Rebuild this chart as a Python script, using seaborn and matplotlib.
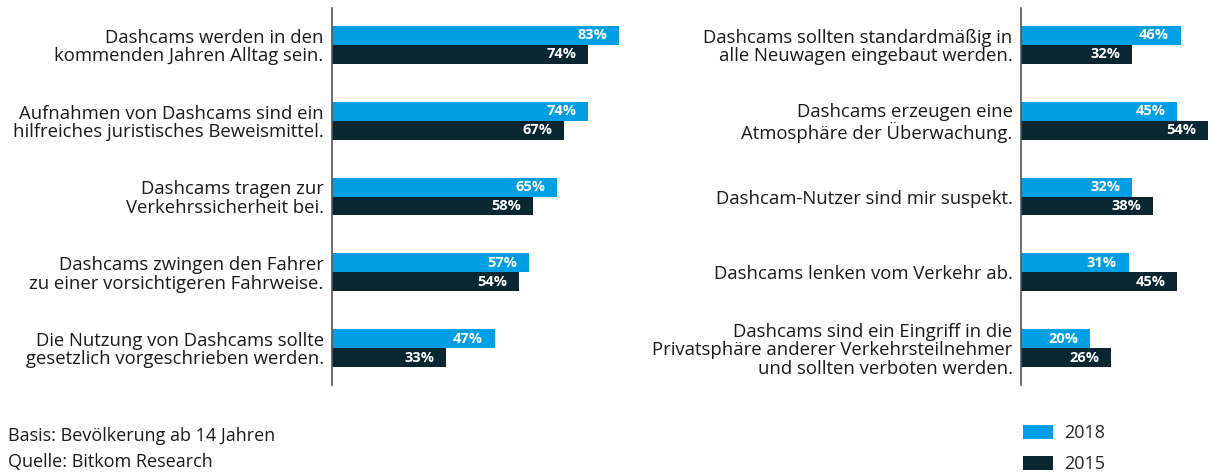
import matplotlib
matplotlib.use("Agg")
import matplotlib.pyplot as plt
import seaborn as sns
import pandas as pd
from matplotlib.patches import Patch
from matplotlib.transforms import offset_copy

left_categories = [
    "Dashcams werden in den\nkommenden Jahren Alltag sein.",
    "Aufnahmen von Dashcams sind ein\nhilfreiches juristisches Beweismittel.",
    "Dashcams tragen zur\nVerkehrssicherheit bei.",
    "Dashcams zwingen den Fahrer\nzu einer vorsichtigeren Fahrweise.",
    "Die Nutzung von Dashcams sollte\ngesetzlich vorgeschrieben werden.",
]
left_2018 = [83, 74, 65, 57, 47]
left_2015 = [74, 67, 58, 54, 33]

right_categories = [
    "Dashcams sollten standardmäßig in\nalle Neuwagen eingebaut werden.",
    "Dashcams erzeugen eine\nAtmosphäre der Überwachung.",
    "Dashcam-Nutzer sind mir suspekt.",
    "Dashcams lenken vom Verkehr ab.",
    "Dashcams sind ein Eingriff in die\nPrivatsphäre anderer Verkehrsteilnehmer\nund sollten verboten werden.",
]
right_2018 = [46, 45, 32, 31, 20]
right_2015 = [32, 54, 38, 45, 26]

years = ["2018", "2015"]
colors = {"2018": "#009FE3", "2015": "#0A2630"}

sns.set_theme(style="white")
plt.rcParams["font.family"] = ["Open Sans", "DejaVu Sans"]

W, H = 1211, 472
fig = plt.figure(figsize=(W / 100, H / 100), dpi=100)

def make_df(cats, v18, v15):
    rows = []
    for c, a, b in zip(cats, v18, v15):
        rows.append({"cat": c, "year": "2018", "val": a})
        rows.append({"cat": c, "year": "2015", "val": b})
    return pd.DataFrame(rows)

def draw(ax, cats, v18, v15, xmax):
    df = make_df(cats, v18, v15)
    sns.barplot(data=df, y="cat", x="val", hue="year", hue_order=years,
                order=cats, palette=colors, orient="h", width=0.5,
                saturation=1, ax=ax, legend=False, errorbar=None,
                linewidth=0, edgecolor="none")
    ax.set_xlim(0, xmax)
    ax.set_ylim(4.487, -0.487)
    ax.set_xlabel("")
    ax.set_ylabel("")
    ax.set_xticks([])
    for s in ["top", "right", "bottom"]:
        ax.spines[s].set_visible(False)
    ax.spines["left"].set_color("#555555")
    ax.spines["left"].set_linewidth(1.2)
    ax.tick_params(axis="y", length=0, pad=6)
    for lab in ax.get_yticklabels():
        lab.set_fontsize(13.3)
        lab.set_color("#1a1a1a")
        lab.set_multialignment("right")
        lab.set_linespacing(1.02)
    trans = offset_copy(ax.transData, fig=fig, x=-8.5, y=0, units="points")
    for cont in ax.containers:
        for rect, v in zip(cont.patches, cont.datavalues):
            ax.text(rect.get_x() + rect.get_width(),
                    rect.get_y() + rect.get_height() / 2,
                    f"{int(v)}%", transform=trans, ha="right", va="center",
                    color="white", fontweight="bold", fontsize=10.5)

ax1 = fig.add_axes([332 / W, (H - 385) / H, 346 / W, 377 / H])
draw(ax1, left_categories, left_2018, left_2015, 100)

ax2 = fig.add_axes([1021 / W, (H - 385) / H, 190 / W, 377 / H])
draw(ax2, right_categories, right_2018, right_2015, 190 / 3.47)

fig.text(8 / W, 1 - 436 / H, "Basis: Bevölkerung ab 14 Jahren", fontsize=13,
         color="#1a1a1a", va="center", ha="left")
fig.text(8 / W, 1 - 462 / H, "Quelle: Bitkom Research", fontsize=13,
         color="#1a1a1a", va="center", ha="left")

handles = [Patch(facecolor=colors[y], edgecolor="none", label=y) for y in years]
fig.legend(handles=handles, loc="upper left",
           bbox_to_anchor=(1023 / W, 1 - 424 / H), frameon=False,
           fontsize=13, handlelength=1.67, handleheight=0.85,
           handletextpad=0.6, labelspacing=0.72, borderaxespad=0,
           borderpad=0)

fig.savefig("out.png", dpi=100)
